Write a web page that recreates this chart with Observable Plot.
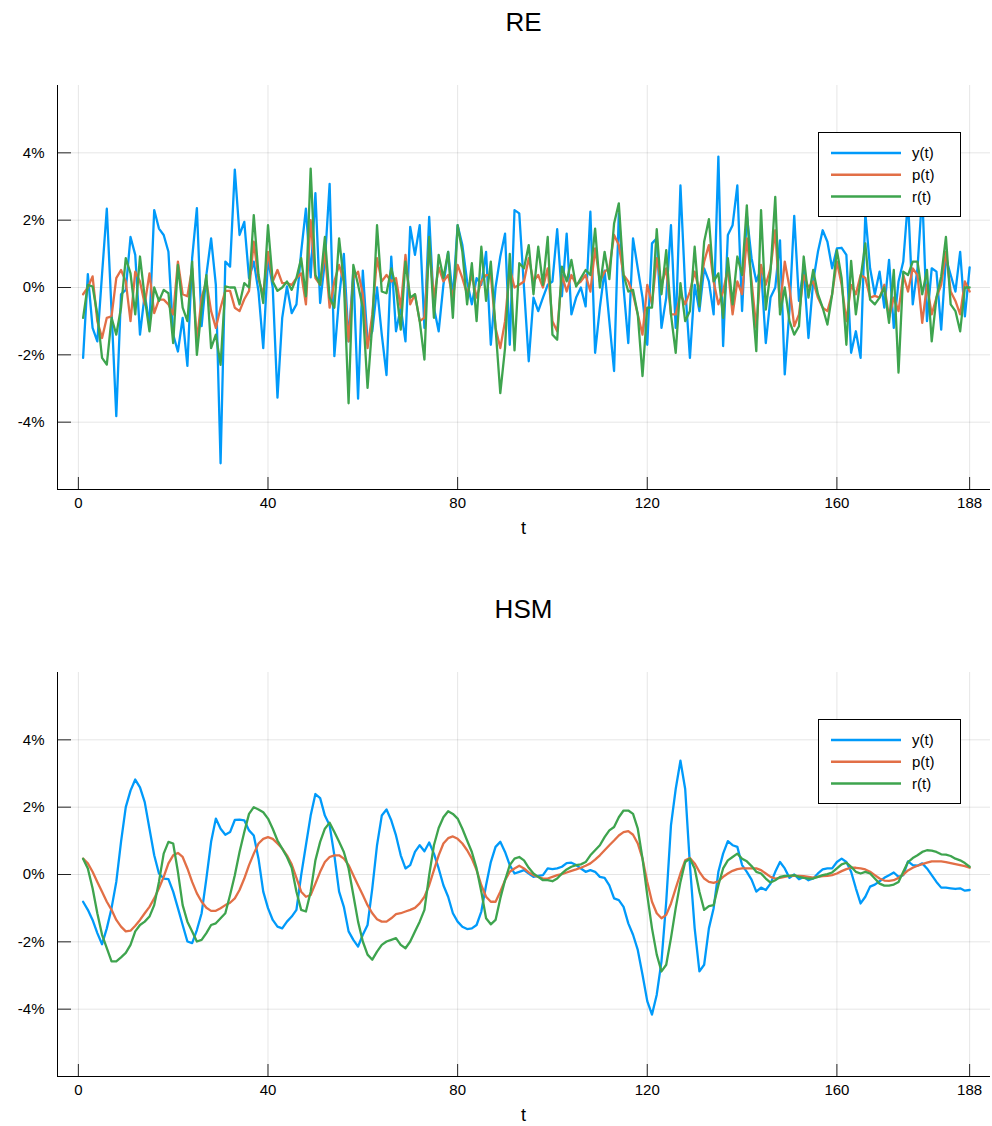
<!DOCTYPE html>
<html><head><meta charset="utf-8">
<script src="https://cdn.jsdelivr.net/npm/d3@7"></script>
<script src="https://cdn.jsdelivr.net/npm/@observablehq/plot@0.6"></script>
<style>
body{margin:0;background:#fff;font-family:"Liberation Sans",Arial,sans-serif;}
#root{position:relative;width:992px;height:1126px;overflow:hidden;background:#fff;}
.panel{position:absolute;left:0;width:992px;height:539px;}
.title{position:absolute;left:57px;width:933px;text-align:center;font-size:26px;line-height:1;top:9px;color:#000;}
.xlabel{position:absolute;left:57px;width:933px;text-align:center;font-size:18px;line-height:18px;height:18px;top:519px;color:#000;}
.legend{position:absolute;left:818px;top:132px;width:143px;height:85px;background:#fff;border:1px solid #000;box-sizing:border-box;}
.panel svg{position:absolute;left:0;top:0;}
</style>
</head><body><div id="root"></div>
<script>
const seriesNames = ["y(t)", "p(t)", "r(t)"];
const seriesColors = ["#009AFA", "#E26F46", "#3EA44E"];
const xTicks = [0, 40, 80, 120, 160, 188];
const yTicks = [-4, -2, 0, 2, 4];
const xDomain = [-4.4, 192.4];
const yDomain = [-6, 6];
const panelTitles = ["RE", "HSM"];

const RE_y = [-2.09,0.4,-1.2,-1.6,0.4,2.34,-0.7,-3.82,-0.2,-0.07,
1.5,0.97,-1.4,-0.2,-1.1,2.3,1.75,1.56,1.06,-1.4,
-1.9,-0.9,-2.33,0.87,2.36,-1.15,0.37,1.46,0.08,-5.22,
0.77,0.62,3.5,1.56,1.95,0.28,0.77,-0.12,-1.8,0.87,
0,-3.27,-0.9,0.03,-0.76,-0.5,1.06,2.34,0.3,2.8,
-0.46,0.77,3.08,-2.04,-0.3,1.0,-1.6,0.5,-3.3,0.5,
-1.6,-1.3,0,-1.4,-2.6,0.92,-1.3,-0.6,-1.6,1.8,
0.97,1.85,-1.2,2.1,-0.6,-1.3,0.08,1.06,-0.3,1.85,
1.26,0.18,-0.5,0.28,0.08,1.06,-1.7,0,0.92,1.6,
-1.7,2.3,2.2,0,-2.19,-0.3,-0.7,-0.3,0.08,0.18,
1.73,-0.26,1.6,-0.8,-0.3,0,-0.56,2.25,-1.94,-0.6,
0.5,-1.0,-2.48,2.2,0,-1.65,1.46,0.57,-0.3,-1.7,
1.31,1.46,-1.2,-0.3,1.85,-1.2,3.03,0,-2.09,0.08,
-0.7,0.57,0.18,-0.8,3.89,-1.74,1.56,1.85,3.03,-0.7,
2.15,0.87,0.18,0.57,-1.65,-0.3,0,1.4,-2.58,-0.65,
2.13,-0.4,0.57,-1.5,0.18,1.06,1.7,1.36,0.57,1.16,
1.18,0.97,-1.94,-1.3,-2.09,2.2,0.57,-0.2,0.47,-0.6,
0.82,-1.2,0.18,0.77,2.6,-0.5,0.57,2.8,-1.0,0.57,
0.47,-1.25,0.87,0.37,-0.12,1.06,-0.86,0.6];

const RE_p = [-0.2,0,0.33,-1.0,-1.5,-0.9,-0.86,0.28,0.52,0.18,
-1.0,0.47,0.18,-0.5,0.42,-0.76,-0.36,-0.36,-0.5,-0.8,
0.77,-0.2,-0.26,0.57,-1.6,-0.3,0.18,-0.7,-1.2,-0.6,
-0.1,-0.1,-0.6,-0.7,-0.35,-0.1,1.36,0.25,-0.2,1.06,
0.18,0.52,0.13,0.13,0.08,0.28,0.42,-0.5,2.0,0.28,
0.08,1.06,-0.6,0.18,0.67,0.18,-1.6,0.28,0.47,-0.2,
-1.8,-0.8,0.87,0.18,0.37,0.18,0.28,-0.6,0.97,-0.5,
-0.2,-1.0,-0.9,1.2,-0.3,0.6,0.18,0.37,-0.3,0.67,
0.28,-0.2,0.37,-0.3,0.18,0.37,0.37,-1.2,-1.8,-1.0,
0.57,0,0.08,0.18,0.87,0.18,0.37,0,0.57,-1.0,
-1.3,0.37,-0.12,0.37,0.08,0.18,0.37,-0.12,1.16,0.18,
0.47,0.57,1.56,1.26,0.37,0.18,-0.2,-0.8,-1.4,0.08,
-0.5,0.87,0.08,0.57,-0.8,-0.8,-0.2,-0.5,-0.12,0.47,
-0.12,0.77,1.26,0.18,-0.5,-0.12,0.57,-0.8,0.18,-0.2,
1.46,0.18,-1.2,0.67,0.08,0.57,1.7,-0.6,0.77,0,
-1.15,-0.8,0.37,0,0.18,-0.3,-0.6,-0.7,-0.2,0.77,
0.08,-1.0,0.08,-0.2,0.37,0.28,-0.3,-0.25,-0.3,0.08,
-0.9,-0.3,-0.7,0.37,-0.12,0.57,0.37,-1.05,0.08,-0.8,
-0.3,0.08,1.06,-0.12,-0.4,-0.8,0.18,-0.12];

const RE_r = [-0.9,0.08,0.03,-0.8,-2.09,-2.29,-0.9,-1.4,-0.6,0.87,
0.42,-0.8,0.92,-0.3,-1.3,0,-0.4,-0.07,-0.17,-1.65,
0.67,-0.6,-1.0,0.77,-2.0,-0.6,0.37,-1.8,-1.4,-2.3,
0.03,0,0,-0.5,0.13,0,2.15,0.37,-0.46,1.85,
0.18,-0.1,0,0.18,-0.07,0.28,0.87,-0.26,3.53,0.37,
0.08,1.5,-0.3,-0.6,1.46,0.18,-3.44,0.67,0.08,-0.6,
-2.98,-1.1,1.85,-0.12,-0.17,0.57,0,-1.25,0.77,-0.3,
-0.2,-1.0,-2.14,1.5,-0.9,0.97,0.28,1.06,-0.9,1.85,
1.06,-0.5,0.72,-1.0,1.21,-0.4,0.77,-1.2,-3.14,-1.8,
1.0,-1.87,0.72,0.57,1.26,-0.2,1.21,0.08,1.5,-1.4,
-1.55,0.62,0.18,0.82,0.03,0.28,0.52,0.37,1.75,0,
1.06,0.25,1.9,2.5,0.37,-0.12,-0.07,-0.8,-2.63,-0.6,
-0.6,1.73,-0.2,1.11,-0.8,-1.94,0.13,-1.0,-0.7,1.21,
-0.56,1.36,2.03,0.18,0.42,-0.9,0.87,-0.5,0.92,0.37,
2.44,-0.12,-1.89,2.3,-0.66,0.47,2.69,-0.8,0,-1.0,
-1.4,-1.15,0.92,-0.3,0.52,-0.2,-0.6,-1.1,-0.2,1.11,
0.28,-1.7,0.79,-0.8,0.28,1.31,-0.36,-0.5,-0.3,0,
-1.05,0.52,-2.53,0.47,0.37,0.77,0.77,-0.2,0.52,-1.6,
-0.3,0.33,1.5,-0.5,-0.7,-1.3,0,0];

const HSM_y = [-0.81,-1.05,-1.35,-1.74,-2.07,-1.6,-1.0,-0.22,0.97,2.0,
2.49,2.82,2.59,2.15,1.36,0.57,0.03,-0.12,-0.14,-0.51,
-1.0,-1.5,-1.99,-2.04,-1.65,-1.15,-0.12,0.97,1.66,1.36,
1.18,1.26,1.62,1.63,1.61,1.31,1.16,0.47,-0.51,-1.0,
-1.35,-1.55,-1.6,-1.4,-1.25,-1.05,-0.02,0.87,1.75,2.39,
2.27,1.75,1.46,0.57,-0.51,-0.96,-1.69,-1.94,-2.14,-1.79,
-1.5,-0.41,0.87,1.75,1.93,1.61,1.16,0.57,0.18,0.28,
0.67,0.87,0.69,0.95,0.62,0.18,-0.32,-0.66,-1.15,-1.4,
-1.55,-1.62,-1.6,-1.5,-1.1,-0.32,0.37,0.82,0.97,0.67,
0.28,0.03,0.08,0.13,0.03,-0.07,-0.04,-0.02,0.18,0.16,
0.18,0.23,0.34,0.35,0.28,0.18,0.08,0.13,0.08,-0.07,
-0.1,-0.32,-0.71,-0.76,-0.96,-1.45,-1.79,-2.24,-2.98,-3.76,
-4.16,-3.57,-2.58,-0.81,1.46,2.54,3.38,2.54,0.28,-1.6,
-2.88,-2.68,-1.6,-1.0,0.08,0.62,0.99,0.87,0.82,0.28,
0.08,-0.15,-0.51,-0.39,-0.46,-0.27,0.08,0.37,0.18,-0.1,
0,-0.14,-0.07,-0.17,-0.12,0.03,0.15,0.18,0.18,0.37,
0.47,0.37,0.08,-0.41,-0.86,-0.66,-0.36,-0.3,-0.2,-0.1,
-0.02,0.06,-0.07,-0.02,0.39,0.28,0.26,0.33,0.18,-0.02,
-0.22,-0.39,-0.39,-0.41,-0.43,-0.41,-0.48,-0.46];

const HSM_p = [0.47,0.33,0.08,-0.22,-0.51,-0.81,-1.05,-1.35,-1.55,-1.69,
-1.67,-1.52,-1.35,-1.15,-0.96,-0.71,-0.41,-0.07,0.33,0.57,
0.64,0.52,0.18,-0.22,-0.56,-0.81,-0.99,-1.08,-1.08,-1.0,
-0.91,-0.84,-0.71,-0.46,-0.12,0.28,0.62,0.92,1.06,1.11,
1.06,0.92,0.77,0.57,0.3,-0.1,-0.51,-0.66,-0.61,-0.27,
0.08,0.37,0.52,0.57,0.57,0.47,0.28,-0.02,-0.32,-0.61,
-0.91,-1.15,-1.33,-1.4,-1.4,-1.3,-1.18,-1.15,-1.1,-1.05,
-0.99,-0.86,-0.66,-0.32,0.13,0.57,0.92,1.08,1.13,1.06,
0.92,0.72,0.47,0.13,-0.32,-0.66,-0.81,-0.81,-0.51,-0.17,
0.08,0.18,0.26,0.18,0.06,-0.02,-0.07,-0.12,-0.12,-0.07,
-0.02,0.01,0.06,0.11,0.15,0.2,0.26,0.33,0.44,0.57,
0.72,0.87,1.01,1.16,1.26,1.29,1.18,0.92,0.47,-0.22,
-0.81,-1.15,-1.3,-1.2,-0.86,-0.41,0.03,0.42,0.49,0.33,
0.08,-0.12,-0.22,-0.25,-0.2,-0.07,0.03,0.11,0.16,0.18,
0.18,0.18,0.18,0.13,0.03,-0.07,-0.12,-0.1,-0.07,-0.04,
-0.04,-0.04,-0.05,-0.07,-0.09,-0.07,-0.05,-0.04,-0.02,0.03,
0.1,0.16,0.2,0.2,0.18,0.15,0.08,-0.02,-0.12,-0.18,
-0.19,-0.17,-0.1,0,0.12,0.2,0.26,0.31,0.35,0.39,
0.39,0.39,0.37,0.34,0.31,0.28,0.25,0.2];

const HSM_r = [0.47,0.18,-0.41,-1.15,-1.79,-2.19,-2.58,-2.58,-2.46,-2.33,
-2.09,-1.69,-1.5,-1.4,-1.25,-0.91,-0.22,0.62,0.97,0.92,
0.08,-0.91,-1.4,-1.69,-1.99,-1.94,-1.74,-1.5,-1.45,-1.3,
-1.15,-0.61,-0.02,0.67,1.26,1.8,2.0,1.93,1.85,1.66,
1.36,1.01,0.77,0.52,0.2,-0.51,-1.05,-1.1,-0.51,0.42,
0.97,1.36,1.54,1.26,0.97,0.67,0.18,-0.61,-1.4,-1.99,
-2.38,-2.53,-2.29,-2.09,-1.99,-1.94,-1.89,-2.09,-2.19,-1.99,
-1.69,-1.4,-1.05,-0.02,0.87,1.38,1.7,1.88,1.8,1.66,
1.36,1.01,0.67,0.18,-0.51,-1.3,-1.48,-1.35,-0.71,-0.17,
0.28,0.47,0.52,0.42,0.2,0.03,-0.07,-0.17,-0.17,-0.2,
-0.12,0.03,0.15,0.23,0.28,0.3,0.37,0.57,0.72,0.87,
1.11,1.31,1.41,1.7,1.9,1.9,1.8,1.36,0.47,-0.61,
-1.6,-2.38,-2.88,-2.68,-1.89,-1.0,-0.22,0.37,0.47,0.18,
-0.51,-1.05,-0.94,-0.91,-0.32,0.18,0.42,0.52,0.62,0.47,
0.39,0.25,0.08,0.03,-0.12,-0.24,-0.17,-0.07,-0.04,-0.04,
-0.02,-0.07,-0.1,-0.12,-0.12,-0.07,-0.02,0.01,0.06,0.18,
0.3,0.35,0.23,0.08,0.03,0.08,0.03,-0.12,-0.27,-0.33,
-0.33,-0.3,-0.22,0.08,0.37,0.49,0.57,0.67,0.72,0.71,
0.67,0.6,0.59,0.55,0.47,0.42,0.34,0.23];

const panels = [
  {title: panelTitles[0], top: 0, series: [RE_y, RE_p, RE_r]},
  {title: panelTitles[1], top: 587, series: [HSM_y, HSM_p, HSM_r]}
];

const W = 992, H = 539, ML = 57, MR = 2, MT = 85, MB = 50;
const plotW = W - ML - MR, plotH = H - MT - MB;
const FONT = '"Liberation Sans", Arial, sans-serif';
const root = document.getElementById("root");

for (const p of panels) {
  p.series.forEach((s, i) => { if (s.length !== 188) throw new Error(p.title + " " + seriesNames[i] + " length " + s.length); });
  const data = p.series.flatMap((vals, i) => vals.map((v, j) => ({t: j + 1, v, s: seriesNames[i]})));
  const chart = Plot.plot({
    width: W, height: H,
    marginLeft: ML, marginRight: MR, marginTop: MT, marginBottom: MB,
    style: {fontFamily: FONT, fontSize: "15px", background: "transparent", color: "#000"},
    x: {domain: xDomain},
    y: {domain: yDomain},
    color: {domain: seriesNames, range: seriesColors},
    marks: [
      Plot.gridX(xTicks, {stroke: "#000", strokeOpacity: 0.1, strokeWidth: 1}),
      Plot.gridY(yTicks, {stroke: "#000", strokeOpacity: 0.1, strokeWidth: 1}),
      Plot.axisX(xTicks, {tickSize: 0, tickPadding: 8, label: null, fontSize: 15, fill: "#000"}),
      Plot.axisY(yTicks, {tickSize: 0, tickPadding: 13, label: null, tickFormat: d => d + "%", fontSize: 15, fill: "#000"}),
      Plot.tickX(xTicks, {x: d => d, insetTop: plotH - 12, stroke: "#000", strokeOpacity: 0.85}),
      Plot.tickY(yTicks, {y: d => d, insetRight: plotW - 14, stroke: "#000", strokeOpacity: 0.85}),
      Plot.ruleX([xDomain[0]], {stroke: "#000"}),
      Plot.ruleY([yDomain[0]], {stroke: "#000"}),
      Plot.lineY(data, {x: "t", y: "v", z: "s", stroke: "s", strokeWidth: 2.3})
    ]
  });
  const div = document.createElement("div");
  div.className = "panel";
  div.style.top = p.top + "px";
  div.appendChild(chart);
  const title = document.createElement("div");
  title.className = "title"; title.textContent = p.title;
  div.appendChild(title);
  const xl = document.createElement("div");
  xl.className = "xlabel"; xl.textContent = "t";
  div.appendChild(xl);
  const leg = document.createElement("div");
  leg.className = "legend";
  const svg = d3.create("svg").attr("width", 141).attr("height", 83).style("position", "absolute").style("left", "0").style("top", "0");
  seriesNames.forEach((n, i) => {
    const yy = 20 + i * 21.7;
    svg.append("line").attr("x1", 12).attr("x2", 82).attr("y1", yy).attr("y2", yy)
      .attr("stroke", seriesColors[i]).attr("stroke-width", 2.5);
    svg.append("text").attr("x", 93).attr("y", yy).attr("dy", "0.36em")
      .attr("font-size", 15).attr("font-family", FONT).text(n);
  });
  leg.appendChild(svg.node());
  div.appendChild(leg);
  root.appendChild(div);
}
</script>
</body></html>
